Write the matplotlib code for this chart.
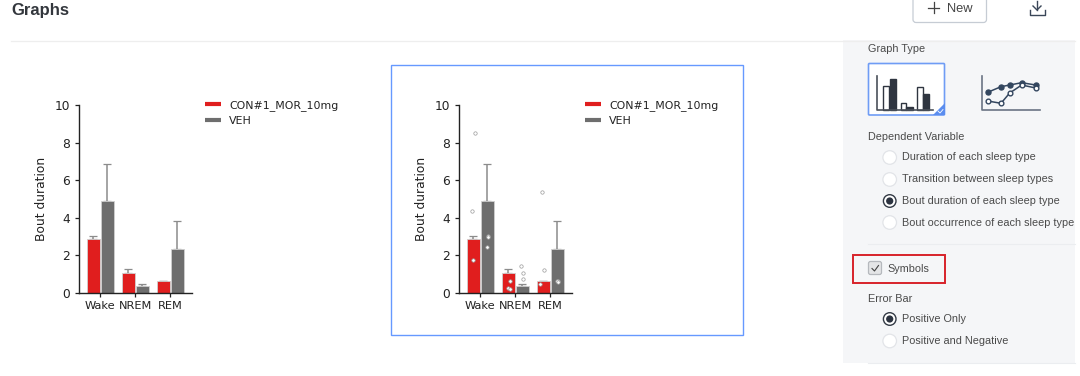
import matplotlib
matplotlib.use("Agg")
import matplotlib.pyplot as plt
from matplotlib.lines import Line2D
from matplotlib.patches import Rectangle, FancyBboxPatch, Circle, Polygon

categories = ["Wake", "NREM", "REM"]
series_names = ["CON#1_MOR_10mg", "VEH"]
con_means = [2.85, 1.05, 0.60]
veh_means = [4.87, 0.36, 2.35]
con_err = [0.20, 0.20, 0.03]
veh_err = [2.00, 0.13, 1.50]
y_ticks = [0, 2, 4, 6, 8, 10]

# individual symbols: (category index, jitter, value)
con_cat = [0, 0, 0, 1, 1, 1, 2, 2, 2]
con_jit = [0.06, -0.05, -0.02, 0.05, 0.00, 0.055, -0.03, 0.03, -0.08]
con_val = [8.52, 4.35, 1.72, 0.60, 0.25, 0.20, 5.35, 1.23, 0.48]
veh_cat = [0, 0, 0, 1, 1, 1, 2, 2, 2]
veh_jit = [0.02, 0.02, 0.0, -0.05, 0.03, 0.02, 0.01, 0.0, 0.02]
veh_val = [3.05, 2.95, 2.45, 1.40, 1.05, 0.75, 0.60, 0.60, 0.57]

W, H = 1080, 376
RED, GRAY = "#e01e1e", "#6e6e6e"
fig = plt.figure(figsize=(W / 100, H / 100), dpi=100, facecolor="white")


def chart(left_px, symbols):
    top, bottom, width = 105.3, 292.7, 113.6
    ax = fig.add_axes([left_px / W, 1 - bottom / H, width / W, (bottom - top) / H])
    ax.patch.set_alpha(0)
    bw = 0.385
    for offs, means, errs, col in ((-0.2, con_means, con_err, RED), (0.2, veh_means, veh_err, GRAY)):
        xs = [i + offs for i in range(3)]
        ax.bar(xs, means, width=bw, color=col, edgecolor="#d0d0d0", linewidth=0.6, zorder=2)
        ax.errorbar(xs, means, yerr=[[0] * 3, errs], fmt="none", ecolor="#8c8c8c",
                    elinewidth=1.1, capsize=2.8, capthick=0.9, zorder=1)
    if symbols:
        for offs, cats, jit, vals in ((-0.2, con_cat, con_jit, con_val), (0.2, veh_cat, veh_jit, veh_val)):
            xs = [c + offs + j for c, j in zip(cats, jit)]
            ax.scatter(xs, vals, s=6, facecolor="white", edgecolor="#9a9a9a", linewidth=0.5, zorder=3)
    ax.set_xlim(-0.617, 2.63)
    ax.set_ylim(0, 10)
    ax.set_xticks(range(3), categories)
    ax.set_yticks(y_ticks)
    ax.tick_params(labelsize=8.2, length=3, width=0.9, pad=3, colors="#222222")
    ax.tick_params(axis="y", labelsize=8.8)
    ax.set_ylabel("Bout duration", fontsize=8.8, color="#222222", labelpad=5)
    for s in ("top", "right"):
        ax.spines[s].set_visible(False)
    for s in ("left", "bottom"):
        ax.spines[s].set_linewidth(1.0)
        ax.spines[s].set_color("#222222")
    handles = [Line2D([], [], color=RED, lw=3, solid_capstyle="butt"),
               Line2D([], [], color=GRAY, lw=3, solid_capstyle="butt")]
    ax.legend(handles, series_names, loc="upper left", frameon=False, fontsize=7.9,
              bbox_to_anchor=((left_px + 126.3) / W, 1 - 100.3 / H), bbox_transform=fig.transFigure,
              borderpad=0, borderaxespad=0, handlelength=1.46, handletextpad=0.72, labelspacing=0.42,
              labelcolor="#222222")


# page chrome, in pixel coordinates
ui = fig.add_axes([0, 0, 1, 1], zorder=0)
ui.set_xlim(0, W)
ui.set_ylim(H, 0)
ui.axis("off")
F = "Liberation Sans"
TXT = "#4a4a4a"


def label(x, y, s, size=7.85, color=TXT, **kw):
    ui.text(x, y, s, fontsize=size, color=color, family=F, va="center", ha=kw.pop("ha", "left"), **kw)


def radio(y, text, on=False):
    cx = 889.7
    if on:
        ui.add_patch(Circle((cx, y), 6.3, fc="white", ec="#333a45", lw=1.0))
        ui.add_patch(Circle((cx, y), 3.6, fc="#2c3340", ec="none"))
    else:
        ui.add_patch(Circle((cx, y), 6.8, fc="white", ec="#e2e4e8", lw=0.9))
    label(901.7, y, text)


ui.add_patch(Rectangle((843, 40), 232, 323, fc="#f5f6f8", ec="none"))
ui.plot([11, 1075], [40.5, 40.5], color="#eeeeee", lw=0.9)
ui.plot([868, 1075], [244, 244], color="#ebedf0", lw=0.8)
ui.plot([868, 1075], [363, 363], color="#ebedf0", lw=0.8)
label(11, 10.5, "Graphs", size=12, color="#33373d", fontweight="bold")

# New button and download icon
ui.add_patch(FancyBboxPatch((913, -8), 73.5, 30.5, boxstyle="round,pad=0,rounding_size=3",
                            fc="white", ec="#c6ccd4", lw=0.9))
ui.plot([928, 939], [7.5, 7.5], color="#444444", lw=0.9)
ui.plot([933.5, 933.5], [2, 13], color="#444444", lw=0.9)
label(946.5, 8.5, "New", size=9.3, color="#444444")
ui.plot([1037, 1037], [0.5, 9.5], color="#3a4658", lw=1.0)
ui.plot([1033, 1037, 1041], [6, 10, 6], color="#3a4658", lw=1.0)
ui.plot([1029.5, 1029.5, 1044.5, 1044.5], [10, 14.5, 14.5, 10], color="#3a4658", lw=1.0)

# selection frame around second chart
ui.add_patch(Rectangle((391, 65), 352, 270, fc="white", ec="#6699ff", lw=1.0))

# graph type tiles
label(868, 49.5, "Graph Type")
ui.add_patch(FancyBboxPatch((868.5, 63.5), 76, 51.5, boxstyle="round,pad=0,rounding_size=1",
                            fc="white", ec="#6f9cf5", lw=1.2))
ui.add_patch(Polygon([[944.5, 103], [944.5, 115], [932.5, 115]], fc="#5b8def", ec="none"))
ui.plot([938, 940, 943], [111, 113, 109.5], color="white", lw=0.6)
DARK = "#2f3540"
ui.plot([877.3, 877.3, 933], [76, 110, 110], color="#4a505a", lw=1.2)
for x0, x1, top, filled in ((883, 888.5, 86, False), (889.5, 895.5, 79, True), (900.5, 905.5, 103, False),
                            (905.5, 912.5, 107, True), (916.5, 922.5, 87, False), (922.5, 929, 93.5, True)):
    ui.add_patch(Rectangle((x0, top), x1 - x0, 110 - top, fc=DARK if filled else "white", ec=DARK, lw=1.0))
ui.plot([981.7, 981.7, 1040], [76, 110, 110], color="#6a7484", lw=1.2)
solid_x = [987.7, 1001, 1009.7, 1021.7, 1035.7]
solid_y = [92.3, 86.7, 85, 82.7, 85]
open_y = [101, 103.3, 93, 85, 88]
ui.plot(solid_x, solid_y, "-o", color="#33465f", lw=1.1, ms=3.6)
ui.plot(solid_x, open_y, "-o", color="#33465f", mfc="white", lw=1.1, ms=3.4)

# dependent variable
label(868, 136.5, "Dependent Variable")
radio(157.5, "Duration of each sleep type")
radio(179.5, "Transition between sleep types")
radio(201, "Bout duration of each sleep type", on=True)
radio(222.5, "Bout occurrence of each sleep type")

# symbols checkbox
ui.add_patch(Rectangle((853, 255), 92, 28, fc="none", ec="#d8232a", lw=1.4))
ui.add_patch(FancyBboxPatch((868.5, 261.5), 13, 13, boxstyle="round,pad=0,rounding_size=2",
                            fc="#e4e5e7", ec="#b5b8bd", lw=0.9))
ui.plot([872, 874.5, 878.5], [268.5, 271, 265.5], color="#444444", lw=0.8)
label(887, 268.5, "Symbols")

# error bar
label(868, 298.5, "Error Bar")
radio(319, "Positive Only", on=True)
radio(341, "Positive and Negative")

chart(78.7, False)
chart(458.7, True)

fig.savefig("out.png", dpi=100, facecolor="white")
